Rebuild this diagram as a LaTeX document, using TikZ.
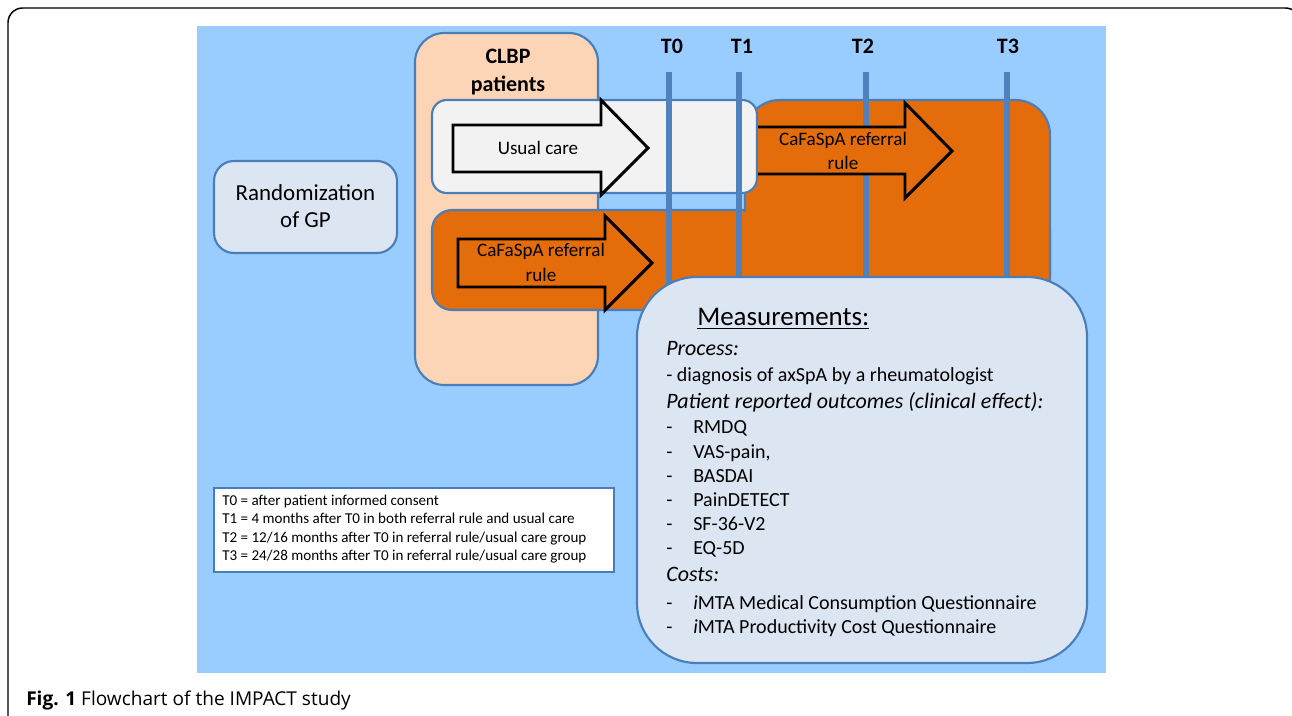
\documentclass[tikz,border=0pt]{standalone}
\usepackage{fontspec}
\setmainfont{Carlito}
\newfontfamily\capfont{Open Sans}
\definecolor{bgblue}{HTML}{99CCFF}
\definecolor{orangeF}{HTML}{E46C0A}
\definecolor{peach}{HTML}{FBD5B5}
\definecolor{ltblue}{HTML}{DCE6F2}
\definecolor{greyF}{HTML}{F2F2F2}
\definecolor{bord}{HTML}{4A7EBB}
\definecolor{tblue}{HTML}{4F81BD}
\begin{document}
\begin{tikzpicture}[x=0.75pt,y=-0.75pt,
  box/.style={draw=bord,line width=1.6pt},
  arrowline/.style={draw=black,line width=2.2pt,line join=miter},
  tline/.style={draw=tblue,line width=4.6pt},
  bigtxt/.style={anchor=base,inner sep=0pt,font=\fontsize{17.2}{20}\selectfont},
  boldtxt/.style={anchor=base,inner sep=0pt,font=\bfseries\fontsize{16.5}{20}\selectfont},
  arrtxt/.style={anchor=base,inner sep=0pt,font=\fontsize{14.3}{17}\selectfont},
  mtxt/.style={anchor=base west,inner sep=0pt,font=\fontsize{15}{18}\selectfont},
  mhead/.style={anchor=base west,inner sep=0pt,font=\itshape\fontsize{16.5}{19}\selectfont},
  legtxt/.style={anchor=base west,inner sep=0pt,font=\fontsize{11.3}{13}\selectfont}]
\useasboundingbox (0,0) rectangle (1292,716);
% outer frame
\draw[line width=1.1pt,rounded corners=11pt] (8,760) -- (8,8) -- (1300,8) -- (1300,760);
% background
\fill[bgblue] (197,26) rectangle (1106,673);
% randomization
\draw[box,fill=ltblue,rounded corners=15pt] (214,161) rectangle (397,253);
\node[bigtxt] (rand1) at (305.5,200.5) {Randomization};
\node[bigtxt] (rand2) at (305.5,227.5) {of GP};
% CLBP patients
\draw[box,fill=peach,rounded corners=22pt] (415,33) rectangle (598,385);
\node[boldtxt] (clbp) at (508,64) {CLBP};
\node[boldtxt] (pat) at (508,92) {patients};
% orange groups
\draw[box,fill=orangeF,rounded corners=15pt] (432,210) rectangle (1050,310);
\draw[box,fill=orangeF,rounded corners=26pt] (745,100) rectangle (1050,310);
\fill[orangeF] (600,212) rectangle (1048,308);
% usual care box
\draw[box,fill=greyF,rounded corners=11pt] (432,100) rectangle (757,193);
% time lines
\foreach \x/\n/\lx in {669/0/672,739/1/742,866/2/863,1007/3/1008}{
  \draw[tline] (\x,72) -- (\x,320);
  \node[boldtxt] (T\n) at (\lx,54) {T\n};
}
% arrows
\draw[arrowline,fill=greyF] (453,125) -- (601,125) -- (601,100) -- (648,148) -- (601,195) -- (601,172) -- (453,172) -- cycle;
\draw[arrowline,fill=orangeF] (458,239) -- (605,239) -- (605,216) -- (652,263) -- (605,310) -- (605,287) -- (458,287) -- cycle;
\fill[orangeF] (758,127) -- (905,127) -- (905,103) -- (952,151) -- (905,198) -- (905,174) -- (758,174) -- cycle;
\draw[arrowline] (758,127) -- (905,127) -- (905,103) -- (952,151) -- (905,198) -- (905,174) -- (758,174);
\node[arrtxt] (uc) at (538,155) {Usual care};
\node[arrtxt] (cf1) at (541,257) {CaFaSpA referral};
\node[arrtxt] (cf1b) at (541,282) {rule};
\node[arrtxt] (cf2) at (843,146) {CaFaSpA referral};
\node[arrtxt] (cf2b) at (843,170) {rule};
% measurements
\draw[box,fill=ltblue,rounded corners=45pt] (637,277) rectangle (1087,663);
\node[anchor=base west,inner sep=0pt,font=\fontsize{20.2}{24}\selectfont] (meas) at (697,326) {\underline{Measurements:}};
\node[mhead] (proc) at (666,356) {Process:};
\node[mtxt] (diag) at (666,382) {- diagnosis of axSpA by a rheumatologist};
\node[mhead] (pro) at (666,408) {Patient reported outcomes (clinical effect):};
\foreach \y/\t [count=\i] in {433/RMDQ,458/{VAS-pain,},482/BASDAI,506/PainDETECT,530/SF-36-V2,554/EQ-5D}{
  \node[mtxt] (d\i) at (666,\y) {-};
  \node[mtxt] (m\i) at (693,\y) {\t};
}
\node[mhead] (cost) at (666,581) {Costs:};
\node[mtxt] (cd1) at (666,609) {-};
\node[mtxt] (c1) at (693,609) {\textit{i}MTA Medical Consumption Questionnaire};
\node[mtxt] (cd2) at (666,633) {-};
\node[mtxt] (c2) at (693,633) {\textit{i}MTA Productivity Cost Questionnaire};
% legend
\draw[box,fill=white] (214,488) rectangle (614,572);
\node[legtxt] (l0) at (222,505.5) {T0 = after patient informed consent};
\node[legtxt] (l1) at (222,523.5) {T1 = 4 months after T0 in both referral rule and usual care};
\node[legtxt] (l2) at (222,542.5) {T2 = 12/16 months after T0 in referral rule/usual care group};
\node[legtxt] (l3) at (222,560.5) {T3 = 24/28 months after T0 in referral rule/usual care group};
% caption
\node[anchor=base west,inner sep=0pt,font=\capfont\fontsize{14.3}{16}\selectfont] (cap) at (26,705) {\textbf{Fig. 1} Flowchart of the IMPACT study};
\end{tikzpicture}
\end{document}
